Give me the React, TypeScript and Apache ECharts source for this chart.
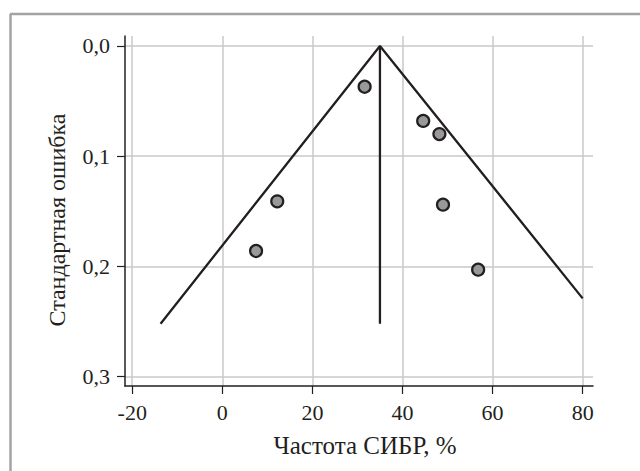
import React, { useEffect, useRef } from "react";
import * as echarts from "echarts";

// Data (x: frequency %, y: standard error)
const studyX = [31.6, 44.6, 48.2, 49.0, 56.8, 12.2, 7.5];
const studyY = [0.037, 0.068, 0.080, 0.144, 0.203, 0.141, 0.186];

const funnelX = [-13.7, 35, 80];
const funnelY = [0.252, 0, 0.229];

const centerX = [35, 35];
const centerY = [0, 0.252];

const xTicks = [-20, 0, 20, 40, 60, 80];
const yTicks = [0, 0.1, 0.2, 0.3];

const xTitle = "Частота СИБР, %";
const yTitle = "Стандартная ошибка";

const FONT = "Times New Roman, Liberation Serif, DejaVu Serif, serif";
const TEXT = "#231f20";

export default function App() {
  const ref = useRef<HTMLDivElement>(null);
  useEffect(() => {
    if (!ref.current) return;
    const chart = echarts.init(ref.current, undefined, { renderer: "svg" });
    const zip = (xs: number[], ys: number[]) => xs.map((x, i) => [x, ys[i]]);
    chart.setOption({
      animation: false,
      backgroundColor: "#ffffff",
      textStyle: { fontFamily: FONT },
      grid: { left: 125, right: 47, top: 36, bottom: 85, containLabel: false },
      xAxis: {
        type: "value",
        min: -21.6,
        max: 82.3,
        axisLine: { show: true, onZero: false, lineStyle: { color: TEXT, width: 1.5 } },
        axisTick: { show: true, customValues: xTicks, length: 8, lineStyle: { color: TEXT, width: 1.2 } },
        axisLabel: {
          customValues: xTicks,
          fontFamily: FONT,
          fontSize: 22,
          color: TEXT,
          margin: 15,
          formatter: (v: number) => String(v),
        },
        splitLine: { show: true, lineStyle: { color: "#c8c8c8", width: 1.5 } },
      },
      yAxis: {
        type: "value",
        inverse: true,
        min: -0.009,
        max: 0.3085,
        axisLine: { show: true, onZero: false, lineStyle: { color: TEXT, width: 1.5 } },
        axisTick: { show: true, customValues: yTicks, length: 8, lineStyle: { color: TEXT, width: 1.2 } },
        axisLabel: {
          customValues: yTicks,
          fontFamily: FONT,
          fontSize: 22,
          color: TEXT,
          margin: 15,
          formatter: (v: number) => v.toFixed(1).replace(".", ","),
        },
        splitLine: { show: true, lineStyle: { color: "#c8c8c8", width: 1.5 } },
      },
      graphic: [
        { type: "line", shape: { x1: 10, y1: 14, x2: 640, y2: 14 }, style: { stroke: "#a3a3a5", lineWidth: 2.5 } },
        { type: "line", shape: { x1: 10.5, y1: 14, x2: 10.5, y2: 471 }, style: { stroke: "#a3a3a5", lineWidth: 2.5 } },
        {
          type: "text",
          x: 57,
          y: 220,
          rotation: Math.PI / 2,
          style: {
            text: yTitle,
            fontFamily: FONT,
            fontSize: 24,
            fill: TEXT,
            textAlign: "center",
            textVerticalAlign: "middle",
          },
        },
        {
          type: "text",
          x: 365,
          y: 445,
          style: {
            text: xTitle,
            fontFamily: FONT,
            fontSize: 25,
            fill: TEXT,
            textAlign: "center",
            textVerticalAlign: "middle",
          },
        },
      ],
      series: [
        {
          type: "line",
          data: zip(funnelX, funnelY),
          showSymbol: false,
          symbol: "none",
          lineStyle: { color: TEXT, width: 2.3 },
          z: 3,
        },
        {
          type: "line",
          data: zip(centerX, centerY),
          showSymbol: false,
          symbol: "none",
          lineStyle: { color: TEXT, width: 2.3 },
          z: 3,
        },
        {
          type: "scatter",
          data: zip(studyX, studyY),
          symbol: "circle",
          symbolSize: 12,
          itemStyle: { color: "#98999b", borderColor: TEXT, borderWidth: 2.2, opacity: 1 },
          z: 4,
        },
      ],
    });
    return () => chart.dispose();
  }, []);
  return (
    <div
      ref={ref}
      style={{ position: "fixed", left: 0, top: 0, width: 640, height: 471 }}
    />
  );
}
